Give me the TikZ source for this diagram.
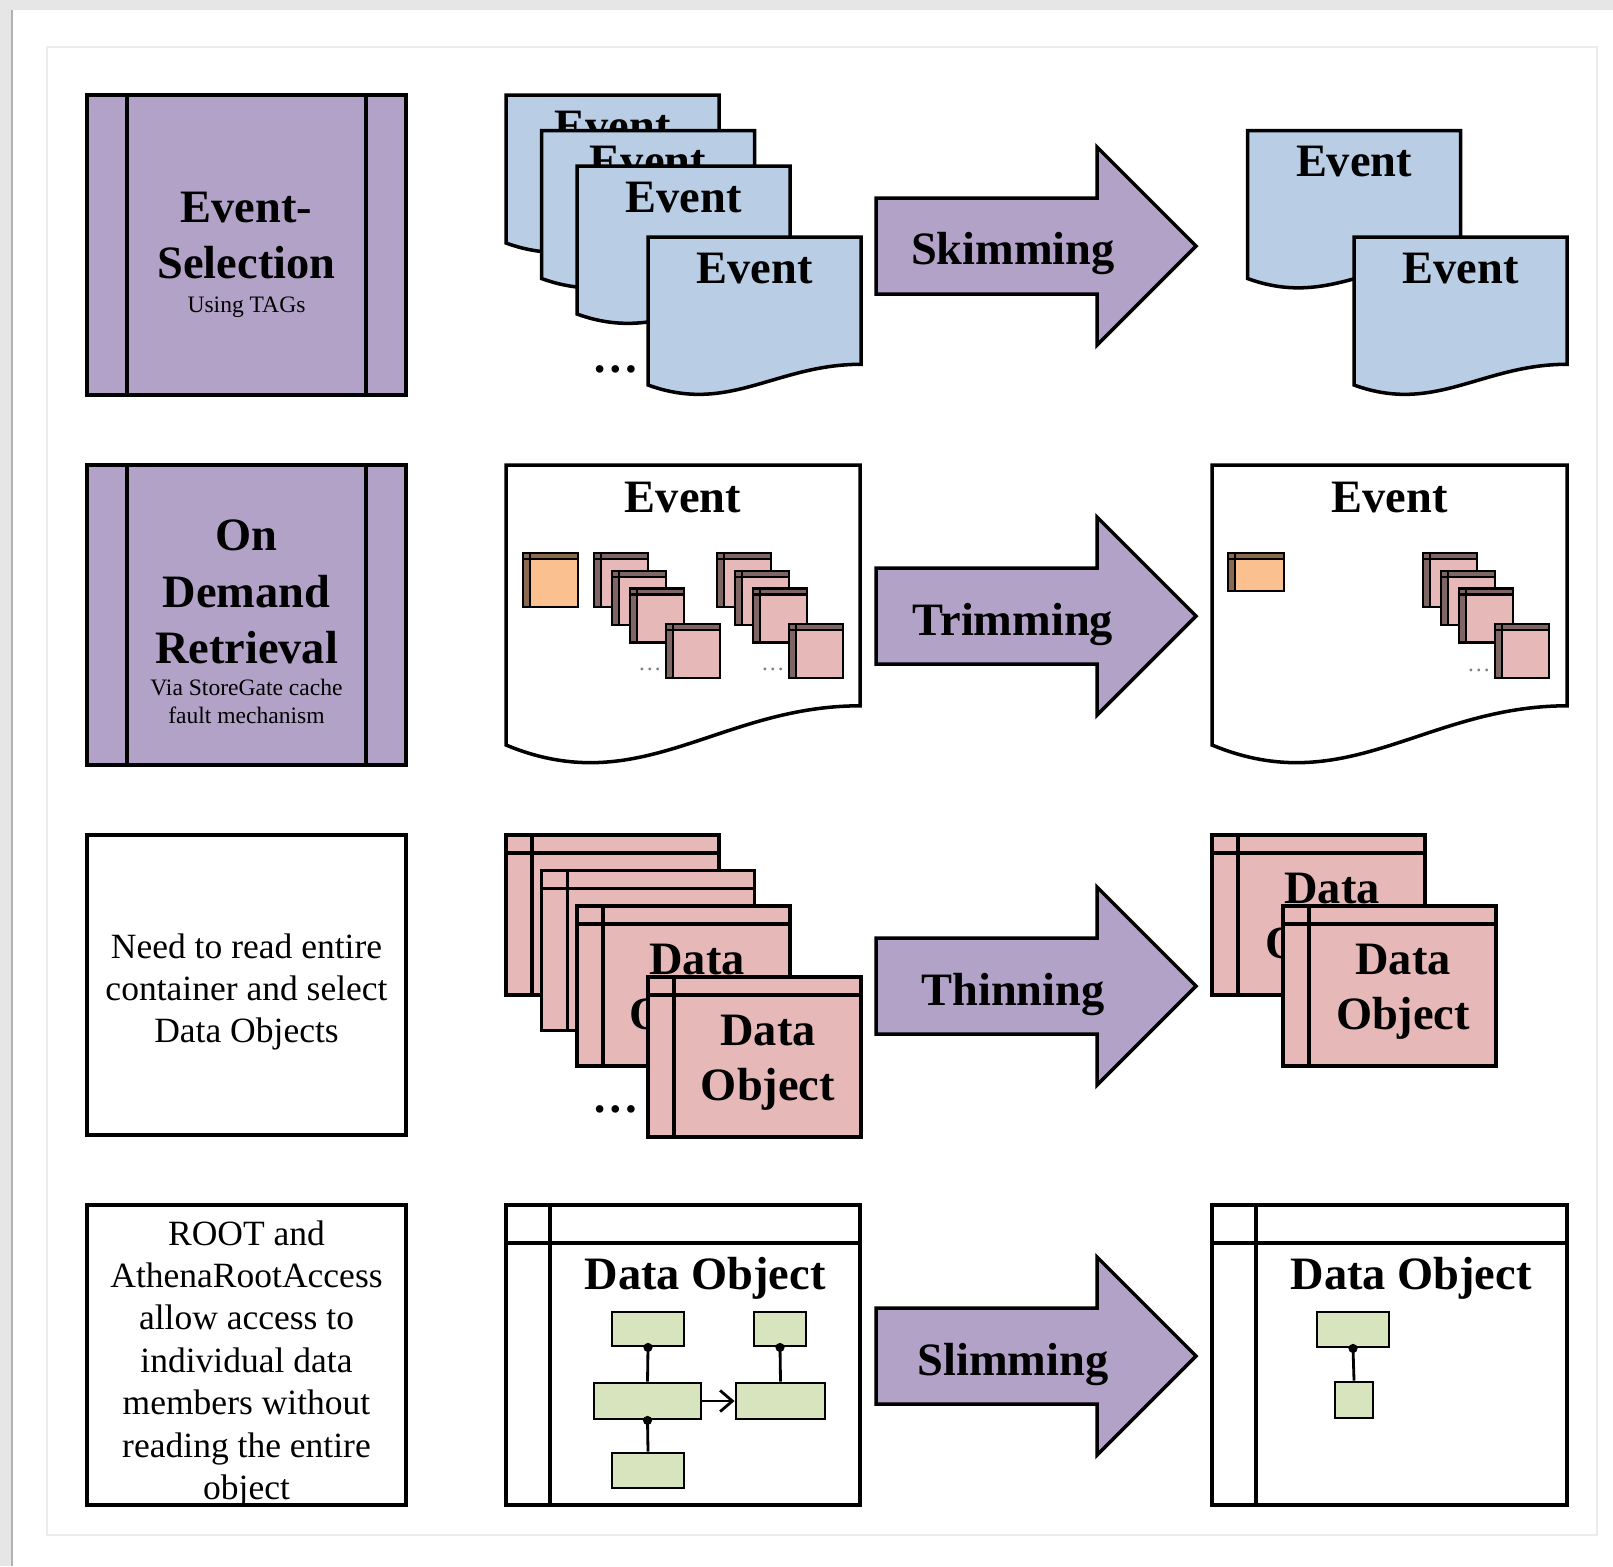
\documentclass[tikz,border=0pt]{standalone}
\usepackage{fontspec}
\setmainfont{Liberation Serif}
\usetikzlibrary{arrows.meta}
\definecolor{boxpurple}{HTML}{B3A2C7}
\definecolor{evblue}{HTML}{B9CDE5}
\definecolor{objpink}{HTML}{E6B9B8}
\definecolor{objorange}{HTML}{FAC090}
\definecolor{leafgreen}{HTML}{D7E4BD}
\definecolor{pagegray}{HTML}{E6E6E6}

% page with wavy bottom: top-left (#1,#2), width #3, height #4, fill #5
\newcommand{\wavedoc}[5]{%
  \draw[outline, fill=#5] ({#1},{#2}) -- ({#1+#3},{#2}) -- ({#1+#3},{#2+0.86*#4})
    .. controls ({#1+0.6*#3},{#2+0.86*#4}) and ({#1+0.38*#3},{#2+1.2*#4}) .. ({#1},{#2+#4}) -- cycle;}
% event card, node name #3
\newcommand{\eventcard}[3]{%
  \wavedoc{#1}{#2}{213}{148}{evblue}
  \node[bigtxt, anchor=base] (#3) at ({#1+106.5},{#2+46}) {Event};}
% data object card, node name #3
\newcommand{\objcard}[3]{%
  \draw[outline, fill=objpink] ({#1},{#2}) rectangle ++(213,160);
  \draw[outline] ({#1},{#2+18}) -- ++(213,0) ({#1+26},{#2}) -- ++(0,160);
  \node[bigtxt, align=center] (#3) at ({#1+120},{#2+86}) {Data\\Object};}
% small container icon
\newcommand{\minibox}[5]{%
  \draw[thinline, fill=#5] ({#1},{#2}) rectangle ++(#3,#4);
  \fill[#5!55!black] ({#1},{#2}) rectangle ++(#3,6) ({#1},{#2}) rectangle ++(7,#4);
  \draw[thinline] ({#1},{#2}) rectangle ++(#3,#4) ({#1},{#2+6}) -- ++(#3,0) ({#1+7},{#2}) -- ++(0,#4);}

\begin{document}
\begin{tikzpicture}[x=0.01cm, y=-0.01cm,
    outline/.style={draw=black, line width=1pt},
    thinline/.style={draw=black, line width=0.7pt},
    bigtxt/.style={font=\fontsize{13.2}{15.6}\selectfont\bfseries, inner sep=0pt},
    midtxt/.style={font=\fontsize{10.1}{11.5}\selectfont, inner sep=0pt},
    smalltxt/.style={font=\fontsize{6.7}{8}\selectfont, inner sep=0pt},
    leaf/.style={draw=black, line width=0.8pt, fill=leafgreen, inner sep=0pt},
    tie/.style={draw=black, line width=0.8pt}
  ]
  \useasboundingbox (0,0) rectangle (1613,1566);
  % Page
  \fill[white] (0,0) rectangle (1613,1566);
  \fill[pagegray] (0,0) rectangle (1613,10);
  \fill[pagegray] (0,0) rectangle (11,1566);
  \draw[gray!60, line width=0.6pt] (12,10) -- (12,1566);
  \draw[gray!15, line width=0.5pt] (47,47) rectangle (1597,1535);

  % Left column
  \foreach \y in {95,465} {
      \draw[outline, fill=boxpurple] (87,\y) rectangle ++(319,300);
      \draw[outline] (127,\y) -- ++(0,300) (366,\y) -- ++(0,300);
    }
  \foreach \y in {835,1205}
  \draw[outline] (87,\y) rectangle ++(319,300);
  \node[bigtxt, anchor=base] (sel1) at (246.5,222) {Event-};
  \node[bigtxt, anchor=base] (sel2) at (246.5,278) {Selection};
  \node[smalltxt, anchor=base] (sel3) at (246.5,312) {Using TAGs};
  \foreach \t/\b [count=\i] in {On/550, Demand/607, Retrieval/663} {
      \node[bigtxt, anchor=base] (odr\i) at (246.5,\b) {\t};
    }
  \node[smalltxt, anchor=base] (via1) at (246.5,695) {Via StoreGate cache};
  \node[smalltxt, anchor=base] (via2) at (246.5,723) {fault mechanism};
  \foreach \t [count=\i] in {Need to read entire, container and select, Data Objects} {
      \node[midtxt, anchor=base] (need\i) at (246.5,{916+42.2*\i}) {\t};
    }
  \foreach \t [count=\i] in {ROOT and, AthenaRootAccess, allow access to, individual data,
      members without, reading the entire, object} {
      \node[midtxt, anchor=base] (root\i) at (246.5,{1202.6+42.4*\i}) {\t};
    }

  % Arrows
  \foreach \c/\t/\n in {246/Skimming/skim, 616/Trimming/trim, 986/Thinning/thin, 1356/Slimming/slim} {
      \draw[outline, fill=boxpurple] (876,{\c-48}) -- (1097,{\c-48}) -- (1097,{\c-99}) -- (1196,\c)
        -- (1097,{\c+99}) -- (1097,{\c+48}) -- (876,{\c+48}) -- cycle;
      \node[bigtxt] (\n) at (1013,{\c+8}) {\t};
    }

  % Row 1: events
  \foreach \i/\n in {0/ev1, 1/ev2, 2/ev3, 4/ev4} {\eventcard{506+35.5*\i}{95+35.5*\i}{\n}}
  \node[bigtxt] (more1) at (616,369) {\ldots};
  \foreach \i/\n in {1/ev5, 4/ev6} {\eventcard{1212+35.5*\i}{95+35.5*\i}{\n}}

  % Row 2: one event, its containers
  \wavedoc{506}{465}{354}{280}{white}
  \node[bigtxt, anchor=base] (evt1) at (683,512) {Event};
  \minibox{523}{553}{55}{54}{objorange}
  \foreach \s in {0,123} {
      \foreach \i in {0,1,2,4} {\minibox{594+\s+18*\i}{553+17.8*\i}{54}{54}{objpink}}
    }
  \node[smalltxt, text=gray] (more2) at (650,669) {\ldots};
  \node[smalltxt, text=gray] (more3) at (773,669) {\ldots};
  \wavedoc{1212}{465}{355}{280}{white}
  \node[bigtxt, anchor=base] (evt2) at (1389.5,512) {Event};
  \minibox{1228}{553}{56}{38}{objorange}
  \foreach \i in {0,1,2,4} {\minibox{1423+18*\i}{553+17.8*\i}{54}{54}{objpink}}
  \node[smalltxt, text=gray] (more4) at (1479,670) {\ldots};

  % Row 3: data objects
  \foreach \i/\n in {0/do1, 1/do2, 2/do3, 4/do4} {\objcard{506+35.5*\i}{835+35.5*\i}{\n}}
  \node[bigtxt] (more5) at (616,1109) {\ldots};
  \foreach \i/\n in {0/do5, 2/do6} {\objcard{1212+35.5*\i}{835+35.5*\i}{\n}}

  % Row 4: one data object, its members
  \draw[outline] (506,1205) rectangle ++(354,300);
  \draw[outline] (506,1243) -- ++(354,0) (550,1205) -- ++(0,300);
  \node[bigtxt, anchor=base] (dobj1) at (705,1289) {Data Object};
  \node[leaf, minimum width=0.72cm, minimum height=0.34cm] (lf1) at (648,1329) {};
  \node[leaf, minimum width=0.52cm, minimum height=0.34cm] (lf2) at (780,1329) {};
  \node[leaf, minimum width=1.07cm, minimum height=0.36cm] (lf3) at (647.5,1401) {};
  \node[leaf, minimum width=0.89cm, minimum height=0.36cm] (lf4) at (780.5,1401) {};
  \node[leaf, minimum width=0.72cm, minimum height=0.35cm] (lf5) at (648,1470.5) {};
  \draw[tie] (lf1.south) -- (lf3.north);
  \draw[tie] (lf2.south) -- (lf4.north);
  \draw[tie] (lf3.south) -- (lf5.north);
  \foreach \n in {lf1, lf2, lf3} {\fill (\n.south) circle[radius=1.3pt];}
  \draw[tie, -{Straight Barb[length=3.5pt, width=6pt]}] (lf3.east) -- (lf4.west);

  \draw[outline] (1212,1205) rectangle ++(355,300);
  \draw[outline] (1212,1243) -- ++(355,0) (1256,1205) -- ++(0,300);
  \node[bigtxt, anchor=base] (dobj2) at (1411,1289) {Data Object};
  \node[leaf, minimum width=0.72cm, minimum height=0.35cm] (lf6) at (1353,1329.5) {};
  \node[leaf, minimum width=0.38cm, minimum height=0.36cm] (lf7) at (1354,1400) {};
  \draw[tie] (lf6.south) -- (lf7.north);
  \fill (lf6.south) circle[radius=1.3pt];
\end{tikzpicture}
\end{document}
